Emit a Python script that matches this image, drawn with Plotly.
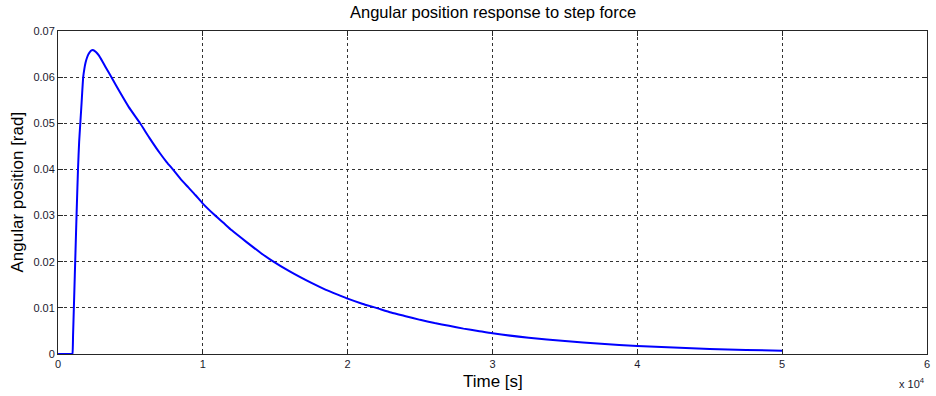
import plotly.graph_objects as go

# Time samples (in units of 1e4 s) and angular position response [rad]
time_e4 = [0.0, 0.098, 0.100, 0.104, 0.110, 0.116, 0.121, 0.128, 0.138, 0.146,
           0.155, 0.163, 0.174, 0.182, 0.190, 0.200, 0.213, 0.227, 0.241, 0.260,
           0.282, 0.305, 0.328, 0.374, 0.430, 0.489, 0.567, 0.630, 0.704, 0.750,
           0.796, 0.850, 0.900, 0.950, 1.000, 1.072, 1.140, 1.200, 1.300, 1.400,
           1.474, 1.600, 1.750, 1.850, 1.944, 2.000, 2.100, 2.197, 2.300, 2.400,
           2.500, 2.600, 2.700, 2.800, 2.900, 3.000, 3.250, 3.500, 3.750, 4.000,
           4.250, 4.500, 4.750, 5.000]
angle_rad = [0.0, 0.0, 0.0, 0.0040, 0.0105, 0.0170, 0.0224, 0.0300, 0.0400, 0.0460,
             0.0505, 0.0545, 0.0600, 0.0618, 0.0631, 0.0642, 0.0651, 0.0657, 0.0659, 0.0655,
             0.0647, 0.0635, 0.0622, 0.0597, 0.0566, 0.0535, 0.0500, 0.0469, 0.0435, 0.0416,
             0.0399, 0.0378, 0.0361, 0.0344, 0.0326, 0.0304, 0.0285, 0.0268, 0.0243, 0.0219,
             0.0203, 0.0179, 0.0154, 0.0139, 0.0127, 0.0120, 0.0109, 0.0100, 0.0090, 0.0082,
             0.0074, 0.0067, 0.0061, 0.0055, 0.0050, 0.00450, 0.0035, 0.0028, 0.0022, 0.00175,
             0.0014, 0.0011, 0.00088, 0.0007]

x_ticks = [0, 1, 2, 3, 4, 5, 6]
y_ticks = [0, 0.01, 0.02, 0.03, 0.04, 0.05, 0.06, 0.07]
y_tick_text = ["0", "0.01", "0.02", "0.03", "0.04", "0.05", "0.06", "0.07"]

title_text = "Angular position response to step force"
x_label = "Time [s]"
y_label = "Angular position [rad]"

font_family = "Liberation Sans, Arial, sans-serif"
tick_font = dict(family=font_family, size=11, color="#1a1a2e")

fig = go.Figure()
fig.add_trace(go.Scatter(
    x=time_e4, y=angle_rad, mode="lines",
    line=dict(color="#0000ff", width=2, shape="spline", smoothing=0.5),
    showlegend=False, hoverinfo="skip",
))

axis_common = dict(
    showline=True, linecolor="#262626", linewidth=1, mirror="ticks",
    ticks="inside", ticklen=5, tickcolor="#262626",
    showgrid=True, gridcolor="#333333", griddash="3px,3px", gridwidth=1,
    zeroline=False, tickfont=tick_font,
)

fig.update_xaxes(range=[0, 6], tickvals=x_ticks, ticktext=[str(v) for v in x_ticks],
                 **axis_common)
fig.update_yaxes(range=[0, 0.07], tickvals=y_ticks, ticktext=y_tick_text,
                 **axis_common)

fig.update_layout(
    width=936, height=396,
    margin=dict(l=58, r=6, t=31, b=42),
    paper_bgcolor="white", plot_bgcolor="white",
    annotations=[
        dict(text=title_text, x=0.5, y=1, xref="paper", yref="paper",
             xanchor="center", yanchor="bottom", yshift=8, showarrow=False,
             font=dict(family=font_family, size=16.5, color="black")),
        dict(text=x_label, x=0.5, y=0, xref="paper", yref="paper",
             xanchor="center", yanchor="middle", yshift=-27, showarrow=False,
             font=dict(family=font_family, size=17, color="black")),
        dict(text=y_label, x=0, y=0.5, xref="paper", yref="paper",
             xanchor="center", yanchor="middle", xshift=-41, textangle=-90,
             showarrow=False,
             font=dict(family=font_family, size=17, color="black")),
        dict(text="x 10<sup>4</sup>", x=1, y=0, xref="paper", yref="paper",
             xanchor="right", yanchor="middle", yshift=-29, showarrow=False,
             font=dict(family=font_family, size=11, color="#1a1a2e")),
    ],
)

fig.write_html("out.html")
